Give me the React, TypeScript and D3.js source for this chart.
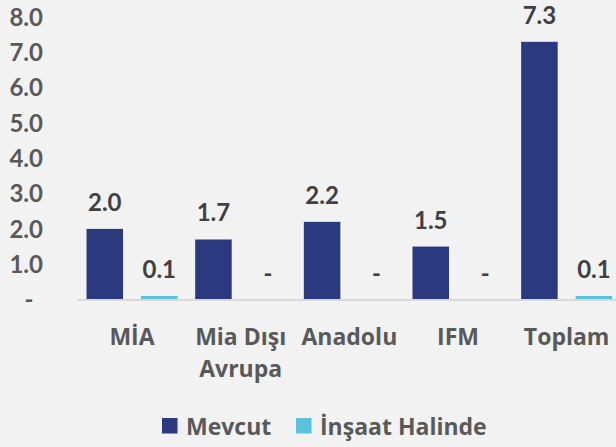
import React from "react";
import * as d3 from "d3";

const categories: string[][] = [["MİA"], ["Mia Dışı", "Avrupa"], ["Anadolu"], ["IFM"], ["Toplam"]];
const seriesNames = ["Mevcut", "İnşaat Halinde"];
const mevcut = [2.0, 1.7, 2.2, 1.5, 7.3];
const insaat = [0.1, 0, 0, 0, 0.1];
const yTicks = [0, 1, 2, 3, 4, 5, 6, 7, 8];

const W = 616;
const H = 447;
const colors = ["#2b3a7e", "#5bc2de"];
const NUM_FONT = "Lato, sans-serif";
const TEXT_FONT = "'Open Sans', sans-serif";

const fmt = (v: number) => (v === 0 ? "-" : d3.format(".1f")(v));

export default function App() {
  const y = d3.scaleLinear().domain([0, 8]).range([299.5, 17.1]);
  const x0 = d3
    .scaleBand<number>()
    .domain(categories.map((_, i) => i))
    .range([77.7, 621])
    .paddingInner(0)
    .paddingOuter(0);
  const x1 = d3
    .scaleBand<string>()
    .domain(seriesNames)
    .range([0, x0.bandwidth()])
    .paddingInner(0.33)
    .paddingOuter(0.162);
  const series = [mevcut, insaat];

  return (
    <svg
      width={W}
      height={H}
      style={{ position: "absolute", left: 0, top: 0 }}
    >
      <rect x={0} y={0} width={W} height={H} fill="#f2f2f2" />
      {/* y axis labels */}
      {yTicks.map((t) => (
        <text
          key={t}
          x={t === 0 ? 29 : 43}
          y={y(t)}
          dy="0.36em"
          textAnchor={t === 0 ? "middle" : "end"}
          fontFamily={NUM_FONT}
          fontSize={24}
          fontWeight={700}
          fill="#595959"
        >
          {fmt(t)}
        </text>
      ))}
      {/* bars */}
      {series.map((vals, si) =>
        vals.map((v, ci) => {
          const bx = (x0(ci) as number) + (x1(seriesNames[si]) as number);
          return (
            <g key={`${si}-${ci}`}>
              <rect
                x={bx}
                y={y(v)}
                width={x1.bandwidth()}
                height={y(0) - y(v)}
                fill={colors[si]}
              />
              <text
                x={bx + x1.bandwidth() / 2}
                y={y(v) - 18}
                textAnchor="middle"
                fontFamily={NUM_FONT}
                fontSize={24}
                fontWeight={700}
                fill="#404040"
              >
                {fmt(v)}
              </text>
            </g>
          );
        })
      )}
      {/* baseline */}
      <line x1={77} x2={W} y1={y(0) + 0.5} y2={y(0) + 0.5} stroke="#d9d9d9" strokeWidth={2} />
      {/* category labels */}
      {categories.map((lines, ci) => (
        <text
          key={ci}
          x={(x0(ci) as number) + x0.bandwidth() / 2}
          y={345}
          textAnchor="middle"
          fontFamily={TEXT_FONT}
          fontSize={23}
          fontWeight={700}
          fill="#595959"
        >
          {lines.map((l, li) => (
            <tspan key={li} x={(x0(ci) as number) + x0.bandwidth() / 2} dy={li === 0 ? 0 : 32}>
              {l}
            </tspan>
          ))}
        </text>
      ))}
      {/* legend */}
      {seriesNames.map((s, si) => {
        const lx = si === 0 ? 162 : 296;
        return (
          <g key={s}>
            <rect x={lx} y={418} width={15.5} height={15.5} fill={colors[si]} />
            <text
              x={lx + 24}
              y={435}
              fontFamily={TEXT_FONT}
              fontSize={23}
              fontWeight={700}
              fill="#595959"
            >
              {s}
            </text>
          </g>
        );
      })}
    </svg>
  );
}
